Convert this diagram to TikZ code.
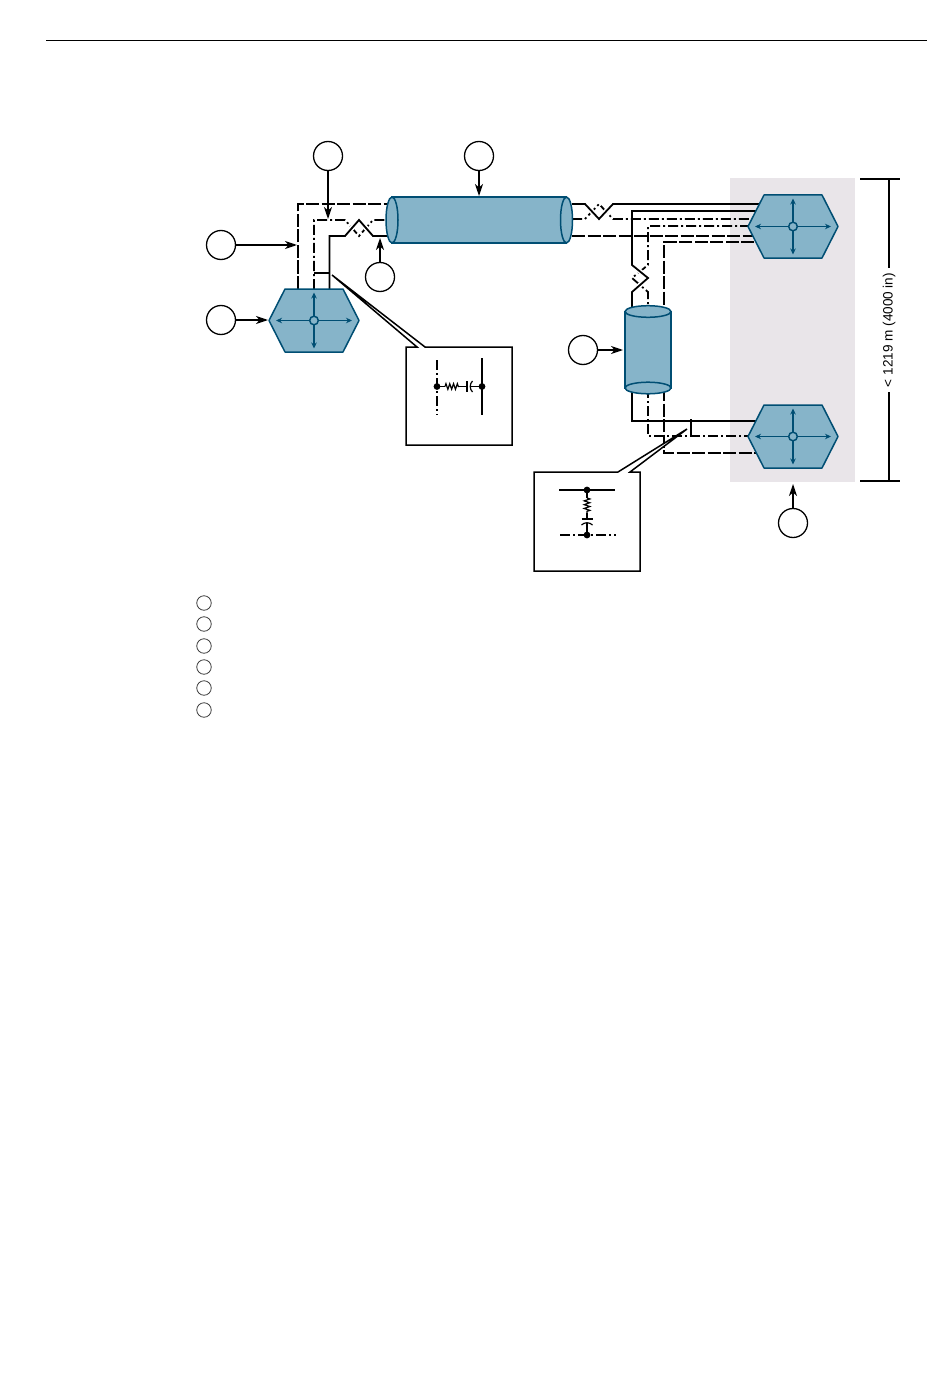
\documentclass[tikz,border=0pt]{standalone}
\usepackage{fontspec}
\newfontfamily\spanfont{Liberation Sans}
\usetikzlibrary{arrows.meta,calc,decorations.pathmorphing}
\definecolor{hexfill}{HTML}{86B4C9}
\definecolor{hexline}{HTML}{004E73}
\definecolor{zonegray}{HTML}{E9E5E9}
\tikzset{
bubble/.style={circle, draw=black, line width=1.3bp, fill=white, minimum size=29bp, inner sep=0pt, outer sep=0pt},
keybubble/.style={circle, draw=black!75, line width=0.8bp, minimum size=14.5bp, inner sep=0pt, outer sep=0pt},
pointer/.style={line width=1.5bp, -{Stealth[length=12bp, width=8bp, inset=3.5bp]}},
inner arrow/.style={hexline, line width=1.6bp, {Stealth[length=6bp, width=5.5bp]}-{Stealth[length=6bp, width=5.5bp]}},
body/.style={draw=hexline, fill=hexfill, line width=1.5bp},
wire/.style={line width=1.8bp},
dashwire/.style={line width=1.8bp, dash pattern=on 13bp off 2.5bp},
dotwire/.style={line width=1.8bp, dash pattern=on 10bp off 3bp on 2bp off 3bp},
halo/.style={white, line width=5bp},
inset/.style={draw=black, fill=white, line width=1.5bp, line join=miter},
lead/.style={line width=1.2bp},
resistor/.style={line width=1.2bp, decorate, decoration={zigzag, segment length=3.8bp, amplitude=2.8bp}},
}

\begin{document}
\begin{tikzpicture}[x=1bp, y=-1bp]
\useasboundingbox (0,0) rectangle (950,1387);

\draw[line width=0.8bp] (46,40) -- (927,40);
\fill[zonegray] (730,178) rectangle (855,482);

\coordinate (hexa) at (314,320.5);
\coordinate (hexb) at (793,226.5);
\coordinate (hexc) at (793,436.5);

% left riser
\coordinate (l0) at (298,289);
\coordinate (l1) at (298,204);
\coordinate (l2) at (388,204);
\coordinate (l3) at (314,289);
\coordinate (l4) at (314,220);
\coordinate (l5) at (345,220);
\coordinate (l6) at (359,236);
\coordinate (l7) at (373,220);
\coordinate (l8) at (388,220);
\coordinate (l9) at (329.5,289);
\coordinate (l10) at (329.5,236);
\coordinate (l11) at (345,236);
\coordinate (l12) at (359,220);
\coordinate (l13) at (373,236);
\coordinate (l14) at (388,236);
\coordinate (l15) at (314,273);
\coordinate (l16) at (329.5,273);

\draw[dashwire] (l0) -- (l1) -- (l2);
\draw[dotwire] (l3) -- (l4) -- (l5) -- (l6) -- (l7) -- (l8);
\draw[halo] (l11) -- (l12) -- (l13);
\draw[wire] (l9) -- (l10) -- (l11) -- (l12) -- (l13) -- (l14);
\draw[wire] (l15) -- (l16);

% top run, cable to hub
\coordinate (t0) at (572,204);
\coordinate (t1) at (585,204);
\coordinate (t2) at (599,219);
\coordinate (t3) at (613,204);
\coordinate (t4) at (760,204);
\coordinate (t5) at (572,219);
\coordinate (t6) at (585,219);
\coordinate (t7) at (599,204);
\coordinate (t8) at (613,219);
\coordinate (t9) at (752,219);
\coordinate (t10) at (572,236);
\coordinate (t11) at (755,236);

\draw[dotwire] (t5) -- (t6) -- (t7) -- (t8) -- (t9);
\draw[halo] (t1) -- (t2) -- (t3);
\draw[wire] (t0) -- (t1) -- (t2) -- (t3) -- (t4);
\draw[dashwire] (t10) -- (t11);

% drop through the second cable
\coordinate (d0) at (757,211);
\coordinate (d1) at (632,211);
\coordinate (d2) at (632,265);
\coordinate (d3) at (648,278);
\coordinate (d4) at (632,292);
\coordinate (d5) at (632,312);
\coordinate (d6) at (750,226);
\coordinate (d7) at (648,226);
\coordinate (d8) at (648,265);
\coordinate (d9) at (632,278);
\coordinate (d10) at (648,292);
\coordinate (d11) at (648,312);
\coordinate (d12) at (754,242);
\coordinate (d13) at (664,242);
\coordinate (d14) at (664,312);

\draw[dotwire] (d6) -- (d7) -- (d8) -- (d9) -- (d10) -- (d11);
\draw[halo] (d2) -- (d3) -- (d4);
\draw[wire] (d0) -- (d1) -- (d2) -- (d3) -- (d4) -- (d5);
\draw[dashwire] (d12) -- (d13) -- (d14);

% below the second cable
\coordinate (b0) at (632,388);
\coordinate (b1) at (632,421);
\coordinate (b2) at (757,421);
\coordinate (b3) at (648,388);
\coordinate (b4) at (648,436);
\coordinate (b5) at (750,436);
\coordinate (b6) at (664,388);
\coordinate (b7) at (664,453);
\coordinate (b8) at (757,453);
\coordinate (b9) at (691,419);
\coordinate (b10) at (691,436);

\draw[wire] (b0) -- (b1) -- (b2);
\draw[dotwire] (b3) -- (b4) -- (b5);
\draw[dashwire] (b6) -- (b7) -- (b8);
\draw[wire] (b9) -- (b10);

% hubs
\foreach \i in {hexa,hexb,hexc} {
    \draw[body, line join=round] ($(\i)+(-45,0)$) -- ($(\i)+(-29,-31.5)$) -- ($(\i)+(29,-31.5)$)
        -- ($(\i)+(45,0)$) -- ($(\i)+(29,31.5)$) -- ($(\i)+(-29,31.5)$) -- cycle;
    \draw[inner arrow] ($(\i)+(-38,0)$) -- ($(\i)+(38,0)$);
    \draw[inner arrow] ($(\i)+(0,-28)$) -- ($(\i)+(0,28)$);
    \draw[body] (\i) circle (4.3bp);
}

% cables
\draw[body] (392,197) -- (566.5,197) -- (566.5,243) -- (392,243) -- cycle;
\draw[body] (392,220) ellipse (6bp and 23bp);
\draw[body] (566.5,220) ellipse (6bp and 23bp);
\draw[body] (625,311.5) -- (625,388) -- (671,388) -- (671,311.5) -- cycle;
\draw[body] (648,388) ellipse (23bp and 5.8bp);
\draw[body] (648,311.5) ellipse (23bp and 5.8bp);

% inset at the left riser
\draw[inset] (417,347) -- (406,347) -- (406,445) -- (512,445) -- (512,347) -- (425,347) -- (332,275) -- cycle;
\draw[dotwire] (437,360) -- (437,415);
\draw[wire] (482,358) -- (482,415);
\coordinate (ra0) at (437,386.5);
\coordinate (ra1) at (445,386.5);
\coordinate (ra2) at (459,386.5);
\coordinate (ra3) at (467,386.5);
\coordinate (ra4) at (470.5,386.5);
\coordinate (ra5) at (482,386.5);
\draw[lead] (ra0) -- (ra1);
\draw[resistor] (ra1) -- (ra2);
\draw[lead] (ra2) -- (ra3);
\draw[lead] (ra4) -- (ra5);
\draw[lead] (467,381) -- (467,392);
\draw[lead] (472.5,381) to[bend right=45] (472.5,392);
\fill (ra0) circle (3.4bp);
\fill (ra5) circle (3.4bp);

% inset at the lower drop
\draw[inset] (618,472) -- (534,472) -- (534,571) -- (640,571) -- (640,472) -- (630,472) -- (687,429) -- cycle;
\draw[wire] (559,490) -- (615,490);
\draw[dotwire] (560,535) -- (616,535);
\coordinate (rb0) at (587,490);
\coordinate (rb1) at (587,498);
\coordinate (rb2) at (587,513);
\coordinate (rb3) at (587,519);
\coordinate (rb4) at (587,522.5);
\coordinate (rb5) at (587,535);
\draw[lead] (rb0) -- (rb1);
\draw[resistor] (rb1) -- (rb2);
\draw[lead] (rb2) -- (rb3);
\draw[lead] (rb4) -- (rb5);
\draw[lead] (581.5,519) -- (592.5,519);
\draw[lead] (581.5,525) to[bend left=45] (592.5,525);
\fill (rb0) circle (3.4bp);
\fill (rb5) circle (3.4bp);

% bubbles
\node[bubble] (ca) at (328,156) {};
\node[bubble] (cb) at (479,156) {};
\node[bubble] (cc) at (221,245) {};
\node[bubble] (cd) at (221,320) {};
\node[bubble] (ce) at (380,277) {};
\node[bubble] (cf) at (583,350) {};
\node[bubble] (cg) at (793,523) {};

\coordinate (pa) at (328,219);
\coordinate (pb) at (479,196);
\coordinate (pc) at (297,245);
\coordinate (pd) at (268,320);
\coordinate (pe) at (380,238);
\coordinate (pf) at (623,350);
\coordinate (pg) at (793,484);

\draw[pointer] (ca) -- (pa);
\draw[pointer] (cb) -- (pb);
\draw[pointer] (cc) -- (pc);
\draw[pointer] (cd) -- (pd);
\draw[pointer] (ce) -- (pe);
\draw[pointer] (cf) -- (pf);
\draw[pointer] (cg) -- (pg);

% length bracket
\coordinate (v0) at (889,179);
\coordinate (v1) at (889,481);
\draw[line width=1.3bp] (860,179) -- (900,179);
\draw[line width=1.3bp] (860,481) -- (900,481);
\node[rotate=90, inner sep=4.5bp, font=\fontsize{13.6}{16}\selectfont\spanfont] (span) at (889,330) {< 1219 m (4000 in)};
\draw[line width=1.3bp] (v0) -- (span);
\draw[line width=1.3bp] (v1) -- (span);

% key
\foreach \n/\y in {1/603,2/624,3/646,4/667,5/688,6/710}
    \node[keybubble] (key\n) at (204,\y) {};

\end{tikzpicture}
\end{document}
